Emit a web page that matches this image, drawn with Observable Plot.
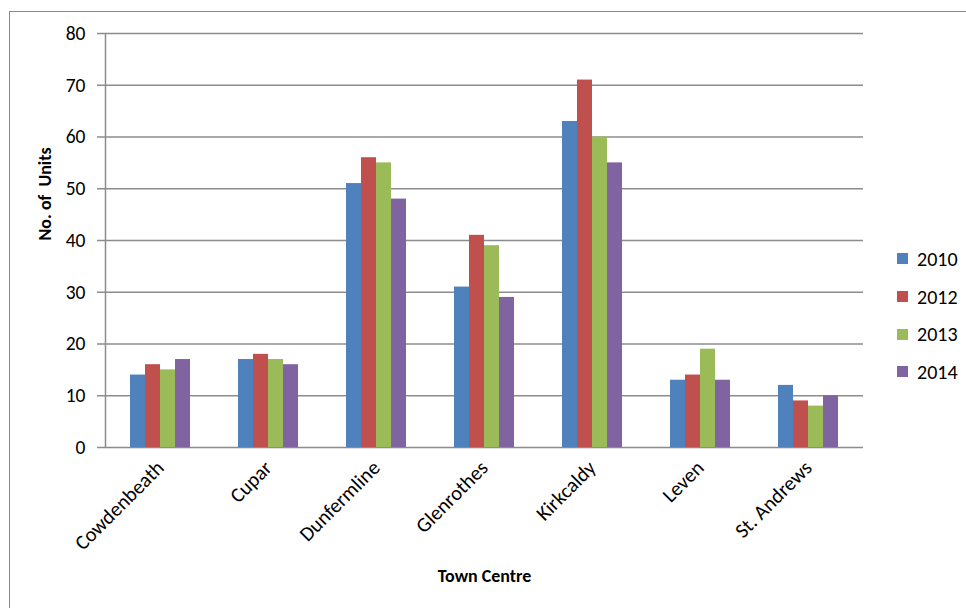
<!DOCTYPE html>
<html>
<head>
<meta charset="utf-8">
<script src="https://cdn.jsdelivr.net/npm/d3@7"></script>
<script src="https://cdn.jsdelivr.net/npm/@observablehq/plot@0.6"></script>
<style>
  html, body { margin: 0; padding: 0; background: #fff; }
  #wrap { position: relative; width: 966px; height: 608px; overflow: hidden; font-family: Carlito, Lato, "Open Sans", sans-serif; }
  #border { position: absolute; left: 9px; top: 11px; width: 2000px; height: 2000px; border-left: 1px solid #8a8a8a; border-top: 1px solid #8a8a8a; }
  .layer { position: absolute; left: 0; top: 0; }
  #legend { position: absolute; left: 897px; top: 240px; font-size: 20px; color: #000; }
  #legend .row { height: 37.7px; display: flex; align-items: center; }
  #legend .sw { width: 11px; height: 11px; margin-right: 9px; }
</style>
</head>
<body>
<div id="wrap">
  <div id="border"></div>
  <div id="back" class="layer"></div>
  <div id="front" class="layer"></div>
  <div id="legend"></div>
</div>
<script>
// Town centres and survey years
const towns = ["Cowdenbeath", "Cupar", "Dunfermline", "Glenrothes", "Kirkcaldy", "Leven", "St. Andrews"];
const years = ["2010", "2012", "2013", "2014"];
const colors = ["#4F81BD", "#C0504D", "#9BBB59", "#8064A2"];

// Number of units per town, one array per year
const units2010 = [14, 17, 51, 31, 63, 13, 12];
const units2012 = [16, 18, 56, 41, 71, 14, 9];
const units2013 = [15, 17, 55, 39, 60, 19, 8];
const units2014 = [17, 16, 48, 29, 55, 13, 10];

const yTicks = [0, 10, 20, 30, 40, 50, 60, 70, 80];
const yTitle = "No. of\u00a0\u00a0Units";
const xTitle = "Town Centre";

const series = [units2010, units2012, units2013, units2014];
const table = [];
towns.forEach((town, i) => {
  years.forEach((year, j) => table.push({town, year, value: series[j][i]}));
});

const dims = {width: 966, height: 608, marginLeft: 105, marginRight: 103, marginTop: 33, marginBottom: 161};
const font = "Carlito, Lato, 'Open Sans', sans-serif";
const gridColor = "#8c8c8c";

// Gridlines, value axis and axis titles
const back = Plot.plot({
  ...dims,
  style: {background: "transparent", fontFamily: font, color: "#000"},
  x: {domain: [0, 1], axis: null},
  y: {domain: [0, 80], axis: null},
  marks: [
    Plot.ruleY(yTicks, {stroke: gridColor, strokeWidth: 1.5}),
    Plot.ruleX([0], {y1: 0, y2: 80, stroke: gridColor, strokeWidth: 1.5}),
    Plot.axisY({ticks: yTicks, tickSize: 8, tickPadding: 12, label: null, stroke: gridColor, strokeWidth: 1.5}),
    Plot.text([yTitle], {frameAnchor: "left", dx: -60, rotate: -90}),
    Plot.text([xTitle], {frameAnchor: "bottom", dy: 134})
  ]
});
document.getElementById("back").appendChild(back);

// Grouped bars: one facet per town, one bar per year
const front = Plot.plot({
  ...dims,
  style: {background: "transparent", fontFamily: font, color: "#000"},
  fx: {domain: towns, padding: 0, label: null},
  x: {domain: years, paddingInner: 0, paddingOuter: 1.5, axis: null},
  y: {domain: [0, 80], axis: null},
  color: {domain: years, range: colors},
  marks: [
    Plot.barY(table, {fx: "town", x: "year", y: "value", fill: "year"}),
    Plot.axisFx({anchor: "bottom", tickRotate: -45, tickSize: 0, tickPadding: 17, label: null})
  ]
});
document.getElementById("front").appendChild(front);

// Text sizing: tick labels larger, axis titles bold
const categorySet = new Set(towns);
for (const svg of [back, front]) {
  d3.select(svg).selectAll("text").each(function() {
    const t = this.textContent;
    if (t === yTitle || t === xTitle) {
      d3.select(this).style("font-size", "18px").style("font-weight", "bold");
    } else if (categorySet.has(t)) {
      d3.select(this).style("font-size", "20.5px");
    } else {
      d3.select(this).style("font-size", "19.5px");
    }
  });
}

// Legend
const legend = document.getElementById("legend");
years.forEach((y, i) => {
  const row = document.createElement("div");
  row.className = "row";
  const sw = document.createElement("span");
  sw.className = "sw";
  sw.style.background = colors[i];
  const label = document.createElement("span");
  label.textContent = y;
  row.appendChild(sw);
  row.appendChild(label);
  legend.appendChild(row);
});
</script>
</body>
</html>
